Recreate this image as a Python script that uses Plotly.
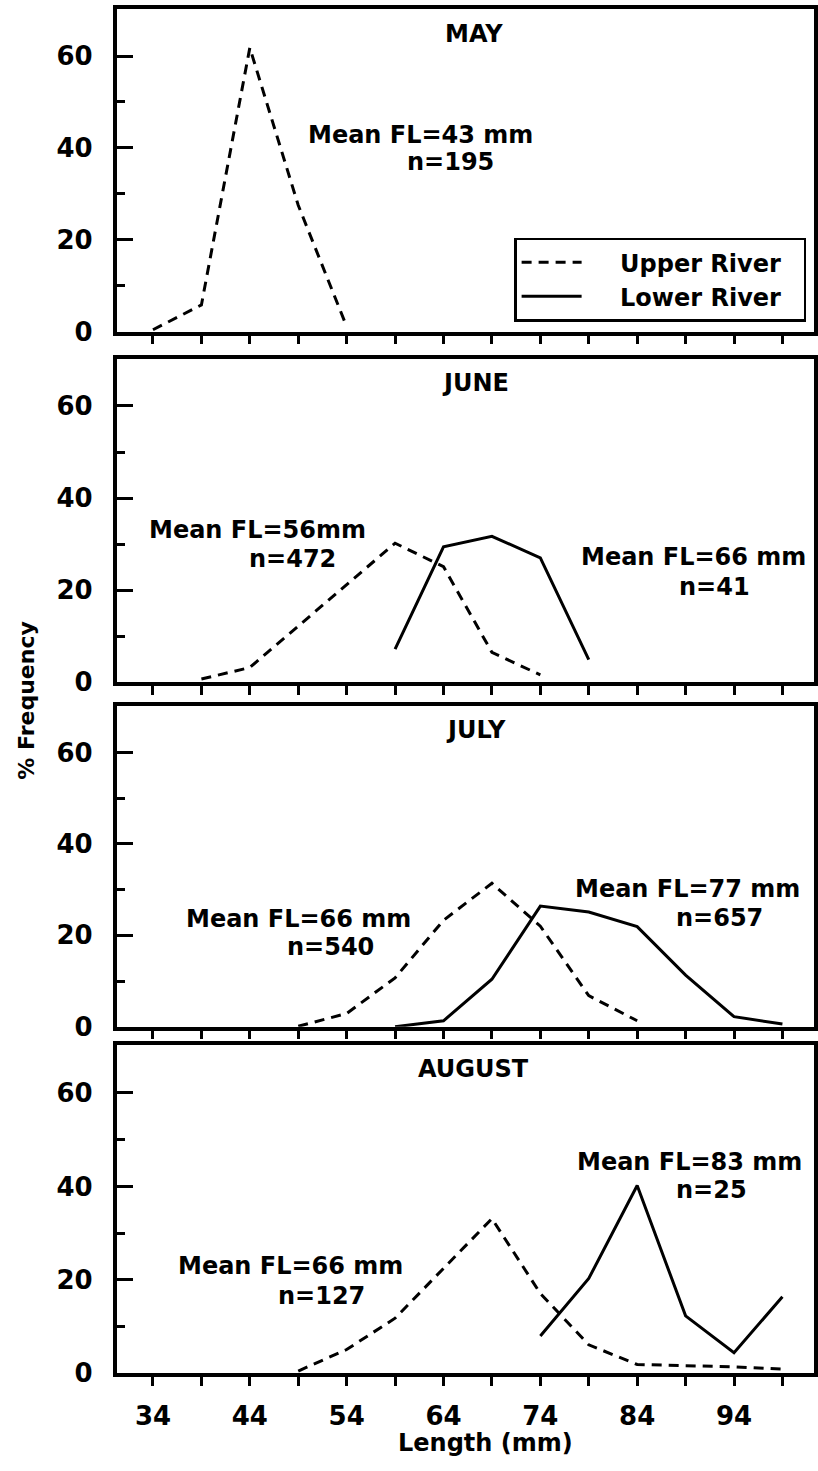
import plotly.graph_objects as go

W, H = 818, 1471

# ---------------- data ----------------
lengths = [34, 39, 44, 49, 54, 59, 64, 69, 74, 79, 84, 89, 94, 99]
x_tick_text = ["34", "", "44", "", "54", "", "64", "", "74", "", "84", "", "94", ""]
y_tick_vals = [0, 20, 40, 60]
y_minor_vals = [10, 30, 50]
months = ["MAY", "JUNE", "JULY", "AUGUST"]

may_upper = [0.4, 5.8, 61.8, 27.5, 1.1, None, None, None, None, None, None, None, None, None]
may_lower = [None] * 14

june_upper = [None, 0.7, 3.2, 12.2, 21.1, 30.2, 25.1, 6.5, 1.6, None, None, None, None, None]
june_lower = [None, None, None, None, None, 7.2, 29.4, 31.7, 27.0, 4.9, None, None, None, None]

july_upper = [None, None, None, 0.1, 2.9, 10.7, 23.3, 31.4, 22.0, 6.8, 1.3, None, None, None]
july_lower = [None, None, None, None, None, 0.0, 1.3, 10.4, 26.4, 25.1, 21.9, 11.3, 2.2, 0.6]

aug_upper = [None, None, None, 0.5, 5.1, 11.8, 22.4, 33.1, 17.1, 6.1, 1.9, 1.7, 1.4, 0.9]
aug_lower = [None, None, None, None, None, None, None, None, 8.0, 20.3, 40.2, 12.3, 4.4, 16.4]

upper_series = [may_upper, june_upper, july_upper, aug_upper]
lower_series = [may_lower, june_lower, july_lower, aug_lower]

mean_upper_text = ["Mean FL=43 mm", "Mean FL=56mm", "Mean FL=66 mm", "Mean FL=66 mm"]
n_upper_text = ["n=195", "n=472", "n=540", "n=127"]
mean_lower_text = [None, "Mean FL=66 mm", "Mean FL=77 mm", "Mean FL=83 mm"]
n_lower_text = [None, "n=41", "n=657", "n=25"]

series_names = ["Upper River", "Lower River"]

# ---------------- layout geometry (pixels) ----------------
panel_px = [(9.3, 335.0), (362.7, 689.3), (713.3, 1037.3), (1056.0, 1387.5)]
x_left_px, x_right_px = 117.0, 817.0
x_range = [30.24, 102.26]
y_range = [0, 70.2]

title_pos = [(476, 34), (477, 387), (478, 738), (475, 1080)]
mean_u_pos = [(422, 136), (258, 535), (300, 928), (292, 1279)]
n_u_pos = [(452, 164), (294, 565), (332, 957), (323, 1309)]
mean_l_pos = [None, (696, 563), (690, 898), (692, 1174)]
n_l_pos = [None, (717, 593), (722, 927), (714, 1202)]

FONT = "DejaVu Sans"
NB = "\u00a0"


def px(x):
    return x / W


def py(y):
    return 1 - y / H


fig = go.Figure()

for i in range(4):
    sfx = "" if i == 0 else str(i + 1)
    up = upper_series[i]
    lo = lower_series[i]
    fig.add_trace(go.Scatter(
        x=lengths, y=up, mode="lines", name=NB * 4 + series_names[0] + NB * 2,
        line=dict(color="black", width=3, dash="10px,7px"),
        xaxis="x" + sfx, yaxis="y" + sfx,
        legendgroup="upper", showlegend=(i == 1), connectgaps=False,
    ))
    if any(v is not None for v in lo):
        fig.add_trace(go.Scatter(
            x=lengths, y=lo, mode="lines", name=NB * 4 + series_names[1] + NB * 2,
            line=dict(color="black", width=3),
            xaxis="x" + sfx, yaxis="y" + sfx,
            legendgroup="lower", showlegend=(i == 1), connectgaps=False,
        ))

layout = dict(
    width=W, height=H,
    margin=dict(l=0, r=0, t=0, b=0),
    paper_bgcolor="white", plot_bgcolor="white",
    showlegend=True,
    legend=dict(
        x=px(516), y=py(240), xanchor="left", yanchor="top",
        bordercolor="black", borderwidth=2.5, bgcolor="white",
        font=dict(family=FONT, size=24, color="black", weight="bold"),
        itemwidth=60, traceorder="normal",
    ),
)

tickfont = dict(family=FONT, size=26, color="black", weight="bold")

for i in range(4):
    sfx = "" if i == 0 else str(i + 1)
    top, bot = panel_px[i]
    layout["xaxis" + sfx] = dict(
        domain=[px(x_left_px), px(x_right_px)], range=x_range,
        anchor="y" + sfx, showline=True, linewidth=3.5, linecolor="black",
        mirror=True, ticks="outside", ticklen=9, tickwidth=2.5, tickcolor="black",
        tickmode="array", tickvals=lengths, ticktext=x_tick_text,
        showticklabels=(i == 3), showgrid=False, zeroline=False,
        tickfont=tickfont, ticklabelstandoff=8,
    )
    layout["yaxis" + sfx] = dict(
        domain=[py(bot), py(top)], range=y_range,
        anchor="x" + sfx, showline=True, linewidth=3.5, linecolor="black",
        mirror=True, ticks="inside", ticklen=17, tickwidth=3, tickcolor="black",
        tickmode="array", tickvals=y_tick_vals, ticktext=[str(v) for v in y_tick_vals],
        minor=dict(tickmode="array", tickvals=y_minor_vals, ticks="inside",
                   ticklen=9, tickwidth=2.5, tickcolor="black"),
        showgrid=False, zeroline=False, tickfont=tickfont,
        ticklabelstandoff=15,
    )

fig.update_layout(**layout)

anns = []


def add_text(text, pos, size=24, angle=0):
    anns.append(dict(
        text=text, x=px(pos[0]), y=py(pos[1]), xref="paper", yref="paper",
        xanchor="center", yanchor="middle", showarrow=False, textangle=angle,
        font=dict(family=FONT, size=size, color="black", weight="bold"),
    ))


for i in range(4):
    add_text(months[i], title_pos[i], size=24)
    add_text(mean_upper_text[i], mean_u_pos[i])
    add_text(n_upper_text[i], n_u_pos[i])
    if mean_lower_text[i]:
        add_text(mean_lower_text[i], mean_l_pos[i])
        add_text(n_lower_text[i], n_l_pos[i])

add_text("% Frequency", (27, 708), size=22, angle=-90)
add_text("Length (mm)", (487, 1458), size=24)

fig.update_layout(annotations=anns)

fig.write_html(
    "out.html",
    config={"displayModeBar": False},
    post_script="document.body.style.margin='0px';document.body.style.overflow='hidden';",
)
